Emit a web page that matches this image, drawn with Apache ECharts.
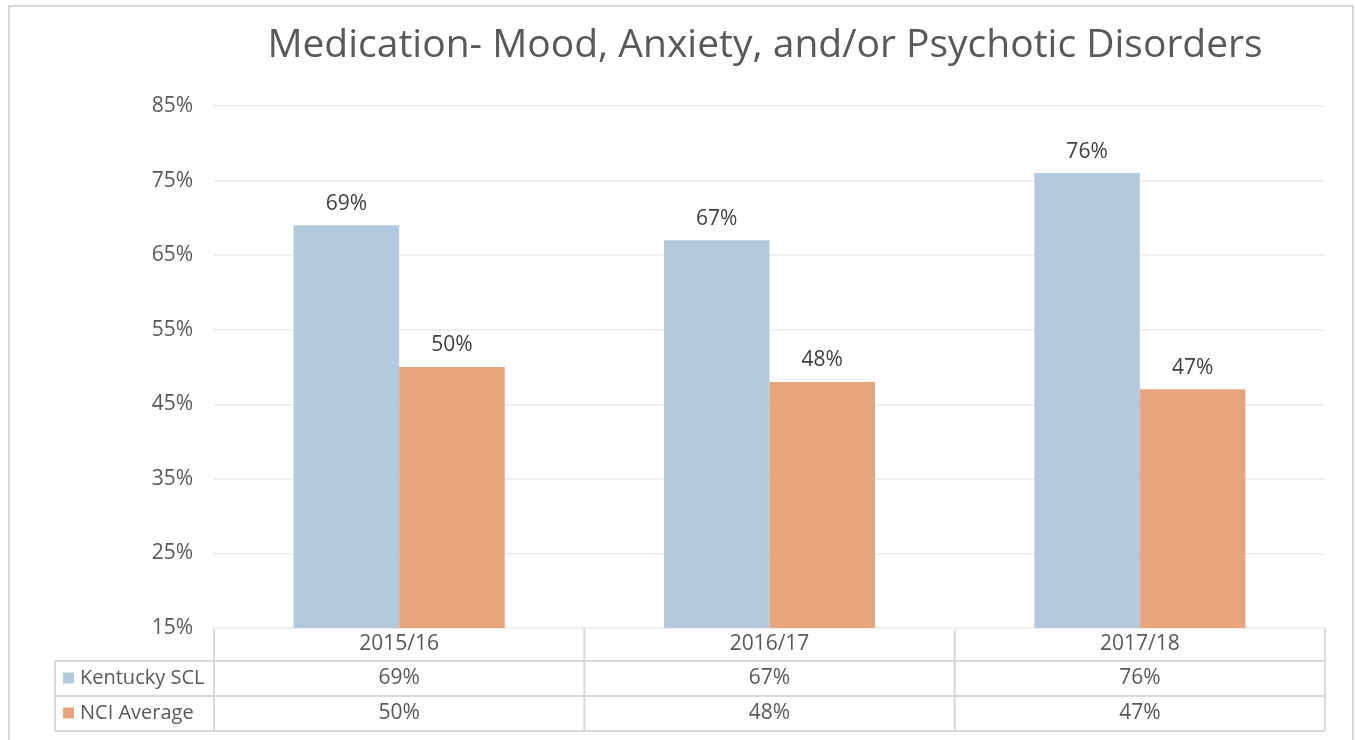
<!DOCTYPE html>
<html>
<head>
<meta charset="utf-8">
<script src="https://cdn.jsdelivr.net/npm/echarts@6/dist/echarts.min.js"></script>
<style>
  html, body { margin: 0; padding: 0; background: #fff; }
  #chart { width: 1355px; height: 740px; }
</style>
</head>
<body>
<div id="chart"></div>
<script>
const years = ["2015/16", "2016/17", "2017/18"];
const kentucky = [69, 67, 76];
const nciAverage = [50, 48, 47];
const seriesNames = ["Kentucky SCL", "NCI Average"];
const seriesColors = ["#b3cade", "#e6a57c"];

const chart = echarts.init(document.getElementById("chart"));
const font = "'Open Sans', Lato, sans-serif";
const textColor = "#595959";

// rozmiary siatki i tabeli pod wykresem
const gridLeft = 214, gridRight = 30, gridTop = 106, gridBottom = 112;
const plotRight = 1355 - gridRight;
const plotBottom = 740 - gridBottom;
const rowH = 35;
const tableLeft = 55;

function buildTable() {
  const els = [];
  const line = (x1, y1, x2, y2) => ({
    type: "line",
    shape: { x1, y1, x2, y2 },
    style: { stroke: "#d9d9d9", lineWidth: 2 },
    silent: true,
  });
  const colW = (plotRight - gridLeft) / years.length;
  const yEnd = plotBottom + 33 + rowH * 2;
  // linie poziome
  els.push(line(gridLeft, plotBottom, plotRight, plotBottom));
  els.push(line(tableLeft, plotBottom + 33, plotRight, plotBottom + 33));
  els.push(line(tableLeft, plotBottom + 33 + rowH, plotRight, plotBottom + 33 + rowH));
  els.push(line(tableLeft, yEnd, plotRight, yEnd));
  // linie pionowe
  els.push(line(tableLeft, plotBottom + 33, tableLeft, yEnd));
  for (let i = 0; i <= years.length; i++) {
    const x = gridLeft + colW * i;
    els.push(line(x, plotBottom, x, yEnd));
  }
  // wiersze z wartościami
  [kentucky, nciAverage].forEach((vals, r) => {
    const yc = plotBottom + 33 + rowH * r + rowH / 2;
    els.push({
      type: "rect",
      shape: { x: 63, y: yc - 6, width: 11, height: 11 },
      style: { fill: seriesColors[r] },
    });
    els.push({
      type: "text",
      x: 80, y: yc,
      style: { text: seriesNames[r], fill: textColor, font: "20px " + font, verticalAlign: "middle" },
    });
    vals.forEach((v, i) => {
      els.push({
        type: "text",
        x: gridLeft + colW * (i + 0.5), y: yc,
        style: { text: v + "%", fill: textColor, font: "21px " + font, align: "center", verticalAlign: "middle" },
      });
    });
  });
  // ramka wokół całości
  els.push({
    type: "rect",
    shape: { x: 9, y: 6, width: 1344, height: 760 },
    style: { fill: null, stroke: "#d9d9d9", lineWidth: 2 },
    silent: true,
  });
  return els;
}

const option = {
  backgroundColor: "#fff",
  title: {
    text: "Medication- Mood, Anxiety, and/or Psychotic Disorders",
    left: 760,
    top: 21,
    textAlign: "center",
    textStyle: { color: textColor, fontFamily: font, fontSize: 39, fontWeight: "normal" },
  },
  grid: { left: gridLeft, right: gridRight, top: gridTop, bottom: gridBottom },
  xAxis: {
    type: "category",
    data: years,
    axisLine: { show: false },
    axisTick: { show: false },
    axisLabel: { color: textColor, fontFamily: font, fontSize: 21, margin: 6 },
  },
  yAxis: {
    type: "value",
    min: 15,
    max: 85,
    interval: 10,
    axisLine: { show: false },
    axisTick: { show: false },
    axisLabel: { formatter: "{value}%", color: textColor, fontFamily: font, fontSize: 21, margin: 21 },
    splitLine: { lineStyle: { color: "#efefef", width: 2 } },
  },
  series: [
    {
      name: seriesNames[0],
      type: "bar",
      data: kentucky,
      barGap: "0%",
      barCategoryGap: "43%",
      itemStyle: { color: seriesColors[0] },
      label: { show: true, position: "top", distance: 11, formatter: "{c}%", color: "#404040", fontFamily: font, fontSize: 21 },
    },
    {
      name: seriesNames[1],
      type: "bar",
      data: nciAverage,
      itemStyle: { color: seriesColors[1] },
      label: { show: true, position: "top", distance: 11, formatter: "{c}%", color: "#404040", fontFamily: font, fontSize: 21 },
    },
  ],
  graphic: buildTable(),
};

chart.setOption(option);
</script>
</body>
</html>
